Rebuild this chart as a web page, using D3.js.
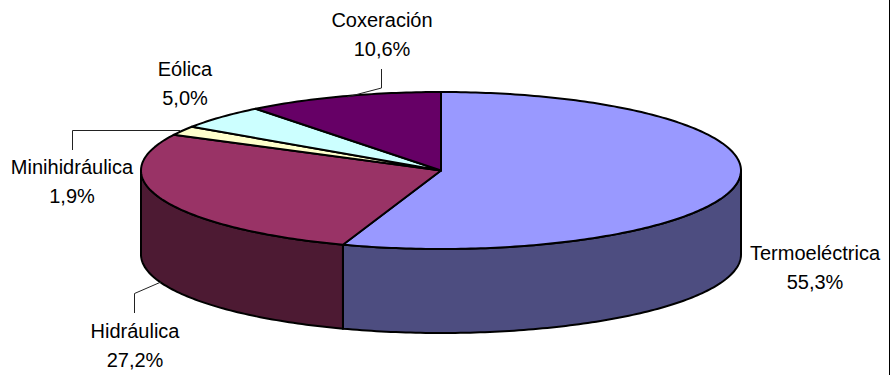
<!DOCTYPE html>
<html>
<head>
<meta charset="utf-8">
<script src="https://cdn.jsdelivr.net/npm/d3@7"></script>
<style>
  html, body { margin: 0; padding: 0; background: #fff; }
  svg { display: block; }
  text { font-family: "Liberation Sans", Arial, sans-serif; font-size: 20px; fill: #000; text-anchor: middle; }
</style>
</head>
<body>
<svg id="chart" width="890" height="375"></svg>
<script>
// Electricity generation share by source
const categories = ["Termoeléctrica", "Hidráulica", "Minihidráulica", "Eólica", "Coxeración"];
const shares = [55.3, 27.2, 1.9, 5.0, 10.6];
const shareLabels = ["55,3%", "27,2%", "1,9%", "5,0%", "10,6%"];
const topColors = ["#9999ff", "#993366", "#ffffcc", "#ccffff", "#660066"];
const wallColors = ["#4d4d80", "#4d1a33", "#80806a", "#668080", "#330033"];

const W = 890, H = 375;
const cx = 441, cy = 170.5, rx = 300, ry = 78.5, depth = 84;

const svg = d3.select("#chart");

// Tilted disc projection: unit circle coordinates onto the page
const sx = d3.scaleLinear().domain([-1, 1]).range([cx - rx, cx + rx]);
const sy = d3.scaleLinear().domain([-1, 1]).range([cy - ry, cy + ry]);
const px = a => sx(Math.sin(a));
const py = a => sy(-Math.cos(a));

const arcs = d3.pie().sort(null).value(d => d)(shares);

const arcPoints = (a0, a1) => {
  const n = Math.max(2, Math.ceil((a1 - a0) * 60));
  return d3.range(n + 1).map(i => a0 + (a1 - a0) * i / n);
};
const line = d3.line();

svg.append("rect")
  .attr("x", 0).attr("y", 0).attr("width", W).attr("height", H)
  .attr("fill", "#fff");
svg.append("line")
  .attr("x1", W - 0.5).attr("x2", W - 0.5).attr("y1", 0).attr("y2", H)
  .attr("stroke", "#000").attr("stroke-width", 1);

// Outer wall: only the part of each slice facing the viewer (pi/2 to 3pi/2)
arcs.forEach((d, i) => {
  const a0 = Math.max(d.startAngle, Math.PI / 2);
  const a1 = Math.min(d.endAngle, 3 * Math.PI / 2);
  if (a1 <= a0) return;
  const angles = arcPoints(a0, a1);
  const upper = angles.map(a => [px(a), py(a)]);
  const lower = angles.slice().reverse().map(a => [px(a), py(a) + depth]);
  svg.append("path")
    .attr("d", line(upper.concat(lower)) + "Z")
    .attr("fill", wallColors[i])
    .attr("stroke", "#000")
    .attr("stroke-width", 2)
    .attr("stroke-linejoin", "round");
});

// Top face of the disc
arcs.forEach((d, i) => {
  const rim = arcPoints(d.startAngle, d.endAngle).map(a => [px(a), py(a)]);
  svg.append("path")
    .attr("d", line([[sx(0), sy(0)]].concat(rim)) + "Z")
    .attr("fill", topColors[i])
    .attr("stroke", "#000")
    .attr("stroke-width", 2)
    .attr("stroke-linejoin", "round");
});

// Leader lines for the labels that sit away from their slice
const leaders = [
  { slice: 1, path: [[134.5, 313], [134.5, 293.5], [161, 282]] },
  { slice: 2, path: [[72.5, 150], [72.5, 130.5], [180, 130.5]] },
  { slice: 4, path: [[381.5, 69], [381.5, 88], [347, 97]] }
];
leaders.forEach(l => {
  svg.append("path")
    .attr("d", line(l.path))
    .attr("fill", "none")
    .attr("stroke", "#222")
    .attr("stroke-width", 1);
});

// Two-line category labels
const labelPos = [[815, 260], [135, 338], [72, 174], [185, 76], [382, 27]];
categories.forEach((name, i) => {
  svg.append("text").attr("x", labelPos[i][0]).attr("y", labelPos[i][1]).text(name);
  svg.append("text").attr("x", labelPos[i][0]).attr("y", labelPos[i][1] + 29).text(shareLabels[i]);
});
</script>
</body>
</html>
